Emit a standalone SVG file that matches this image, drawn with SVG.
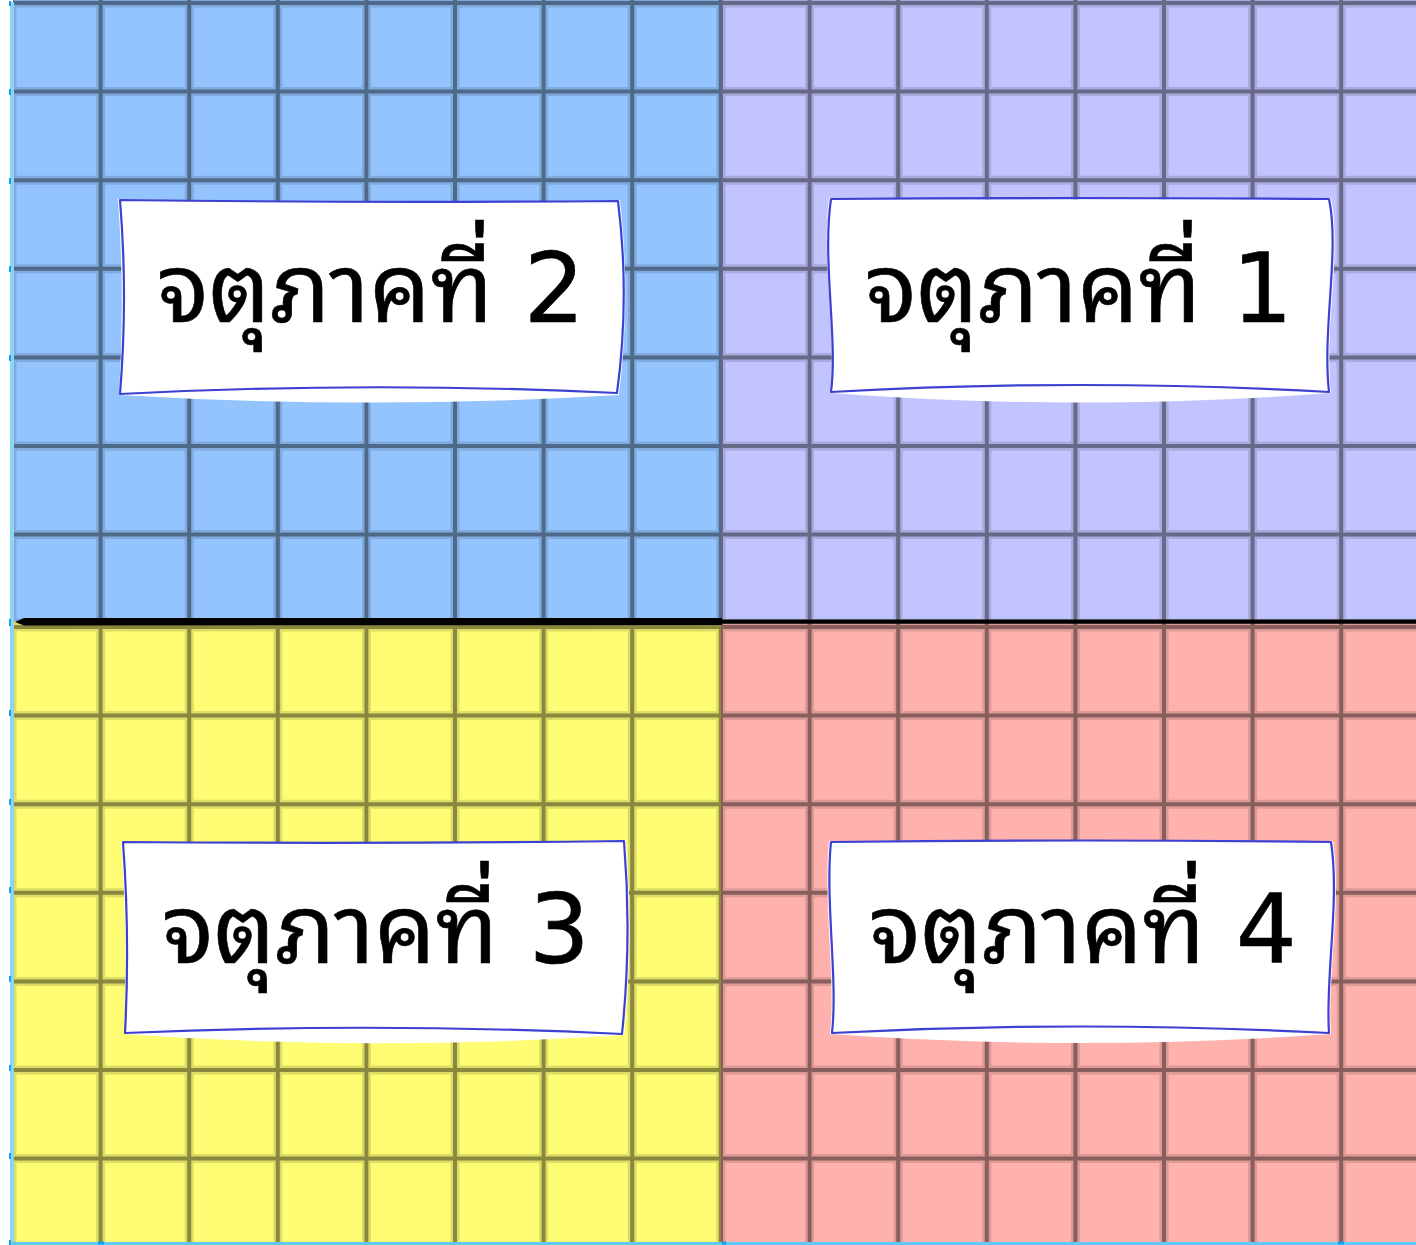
<svg xmlns="http://www.w3.org/2000/svg" xmlns:xlink="http://www.w3.org/1999/xlink" width="1416" height="1245" viewBox="0 0 1416 1245">
<style>
.halo{fill:none;stroke:#000;stroke-opacity:0.13;stroke-width:9}
.core{fill:none;stroke:#000;stroke-opacity:0.38;stroke-width:4}
.boxfill{fill:#ffffff;stroke:none}
.boxline{fill:none;stroke:#3d40d2;stroke-width:2.2;stroke-linejoin:round}
.lbl{font-family:"DejaVu Sans","Noto Sans Thai Looped","Noto Sans Thai",sans-serif;font-weight:normal;font-size:96px;fill:#000;text-anchor:middle;stroke:#000;stroke-width:0.6}
</style>
<defs>
<path id="grid" d="M0,-6V626M88.6,-6V626M177.2,-6V626M265.8,-6V626M354.4,-6V626M443,-6V626M531.6,-6V626M620.2,-6V626M708.8,-6V626M-6,0H716M-6,88.6H716M-6,177.2H716M-6,265.8H716M-6,354.4H716M-6,443H716M-6,531.6H716M-6,620.2H716"/>
<clipPath id="cTL"><rect x="13" y="0" width="708" height="621"/></clipPath>
<clipPath id="cTR"><rect x="721" y="0" width="695" height="621"/></clipPath>
<clipPath id="cBL"><rect x="13" y="621" width="708" height="621"/></clipPath>
<clipPath id="cBR"><rect x="721" y="621" width="695" height="621"/></clipPath>
</defs>
<rect width="1416" height="1245" fill="#ffffff"/>
<g id="quadrant-2">
<rect x="13" y="0" width="708" height="621" fill="#94c4fe"/>
<g clip-path="url(#cTL)"><use xlink:href="#grid" class="halo" transform="translate(12,3)"/><use xlink:href="#grid" class="core" transform="translate(12,3)"/></g>
</g>
<g id="quadrant-1">
<rect x="721" y="0" width="695" height="621" fill="#c1c4fe"/>
<g clip-path="url(#cTR)"><use xlink:href="#grid" class="halo" transform="translate(721,3)"/><use xlink:href="#grid" class="core" transform="translate(721,3)"/></g>
</g>
<g id="quadrant-3">
<rect x="13" y="621" width="708" height="621" fill="#fefd74"/>
<g clip-path="url(#cBL)"><use xlink:href="#grid" class="halo" transform="translate(12,627)"/><use xlink:href="#grid" class="core" transform="translate(12,627)"/></g>
</g>
<g id="quadrant-4">
<rect x="721" y="621" width="695" height="621" fill="#feb1ad"/>
<g clip-path="url(#cBR)"><use xlink:href="#grid" class="halo" transform="translate(721,627)"/><use xlink:href="#grid" class="core" transform="translate(721,627)"/></g>
</g>
<g id="edges">
<rect x="10" y="2" width="4" height="1243" fill="#8ad5f2"/>
<rect x="12" y="1242" width="1404" height="3" fill="#5ccaf5"/>
<path d="M10,1V6M10,89V95M10,178V184M10,266V272M10,355V361M10,619V626M10,710V716M10,799V805M10,887V893M10,976V982M10,1065V1071M10,1153V1159M10,1240V1245" stroke="#14a0ee" stroke-width="2" fill="none"/>
<path d="M98,1243H104M722,1243H726M1338,1243H1344" stroke="#14a0ee" stroke-width="3" fill="none"/>
</g>
<g id="axis">
<path d="M15,622 L24,618 L722,618 L722,619.5 L1416,619.5 L1416,623.8 L722,623.8 L722,625 L24,625.5 Z" fill="#000"/>
</g>
<g id="connectors"></g>
<g id="label-2">
<path class="boxfill" d="M118,199 Q370,205 620,200 Q631,297 619,395 Q370,410 119,395 Q125,297 118,199 Z"/>
<path class="boxline" d="M120,200 Q370,203 618,201 Q630,297 617,393 Q370,381 120,394 Q128,297 120,200 Z"/>
<text class="lbl" x="371" y="322">จตุภาคที่ 2</text>
</g>
<g id="label-1">
<path class="boxfill" d="M829,198 Q1080,201 1331,198 C1342,250 1324,330 1331,393 Q1080,412 830,393 C837,340 821,260 829,198 Z"/>
<path class="boxline" d="M831,199 Q1080,197 1329,199 C1340,250 1322,330 1329,392 Q1080,378 831,392 C838,340 822,260 831,199 Z"/>
<text class="lbl" x="1079" y="322">จตุภาคที่ 1</text>
</g>
<g id="label-3">
<path class="boxfill" d="M121,841 Q374,846 626,840 Q634,938 624,1035 Q374,1052 124,1034 Q128,938 121,841 Z"/>
<path class="boxline" d="M123,842 Q374,844 624,841 Q632,938 622,1034 Q374,1022 125,1033 Q130,938 123,842 Z"/>
<text class="lbl" x="376" y="963">จตุภาคที่ 3</text>
</g>
<g id="label-4">
<path class="boxfill" d="M829,841 Q1081,840 1333,841 C1342,900 1327,980 1331,1034 Q1081,1052 830,1034 C836,980 823,900 829,841 Z"/>
<path class="boxline" d="M831,842 Q1081,839 1331,842 C1340,900 1325,980 1329,1033 Q1081,1020 832,1033 C838,980 825,900 831,842 Z"/>
<text class="lbl" x="1083" y="963">จตุภาคที่ 4</text>
</g>
</svg>
